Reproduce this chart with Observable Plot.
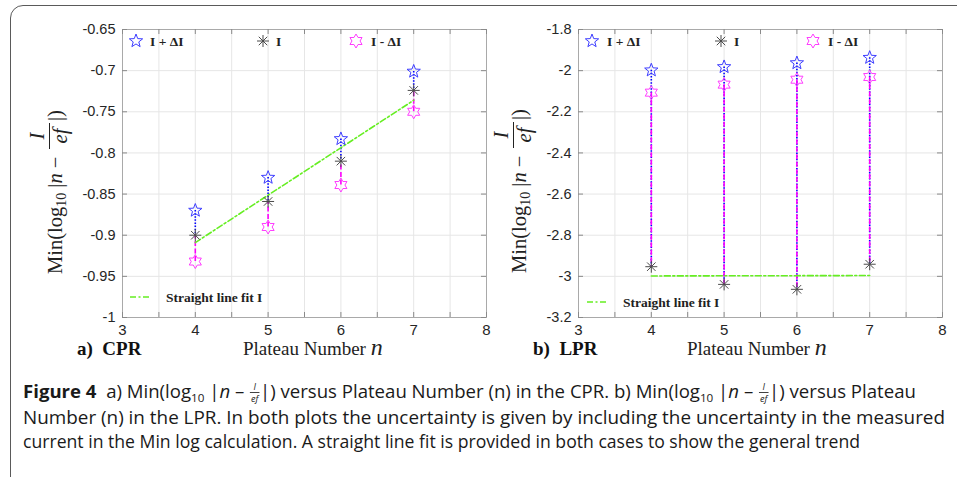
<!DOCTYPE html>
<html><head><meta charset="utf-8">
<script src="https://cdn.jsdelivr.net/npm/d3@7"></script>
<script src="https://cdn.jsdelivr.net/npm/@observablehq/plot@0.6"></script>
<style>
html,body{margin:0;padding:0;background:#fff;overflow:hidden;}
#fig{position:relative;width:957px;height:477px;overflow:hidden;background:#fff;}
#border{position:absolute;left:10px;top:5px;width:1000px;height:540px;border:1.5px solid #5a5a5a;border-radius:13px;box-sizing:border-box;}
.panel{position:absolute;top:0;}
</style></head><body><div id="fig"><div id="border"></div></div>
<script>
// ---------- data ----------
const plateau = [4, 5, 6, 7];
const cprPlus  = [-0.870, -0.830, -0.783, -0.701];
const cprI     = [-0.900, -0.859, -0.810, -0.724];
const cprMinus = [-0.932, -0.890, -0.839, -0.750];
const cprFitX = [4, 7];
const cprFitY = [-0.909, -0.736];

const lprPlus  = [-1.998, -1.982, -1.963, -1.937];
const lprI     = [-2.953, -3.039, -3.063, -2.941];
const lprMinus = [-2.107, -2.068, -2.044, -2.031];
const lprFitX = [4, 7];
const lprFitY = [-2.998, -2.996];

const xTicks = [3, 4, 5, 6, 7, 8];
const xGrid = [3, 3.5, 4, 4.5, 5, 5.5, 6, 6.5, 7, 7.5, 8];
const cprYTicks = [-0.65, -0.7, -0.75, -0.8, -0.85, -0.9, -0.95, -1];
const lprYTicks = [-1.8, -2, -2.2, -2.4, -2.6, -2.8, -3, -3.2];

const legendLabels = ["I + \u0394I", "I", "I - \u0394I"];
const fitLabel = "Straight line fit I";

// ---------- symbols ----------
const starSymbol = {draw(ctx, size) {
  const R = Math.sqrt(size / Math.PI), r = R * 0.42;
  for (let k = 0; k < 10; k++) {
    const a = -Math.PI / 2 + k * Math.PI / 5, rr = k % 2 ? r : R;
    const x = rr * Math.cos(a), y = rr * Math.sin(a);
    k ? ctx.lineTo(x, y) : ctx.moveTo(x, y);
  }
  ctx.closePath();
}};
const hexSymbol = {draw(ctx, size) {
  const R = Math.sqrt(size / Math.PI), r = R / Math.sqrt(3);
  for (let k = 0; k < 12; k++) {
    const a = -Math.PI / 2 + k * Math.PI / 6, rr = k % 2 ? r : R;
    const x = rr * Math.cos(a), y = rr * Math.sin(a);
    k ? ctx.lineTo(x, y) : ctx.moveTo(x, y);
  }
  ctx.closePath();
}};
const astSymbol = {draw(ctx, size) {
  const R = Math.sqrt(size / Math.PI);
  for (let k = 0; k < 4; k++) {
    const a = k * Math.PI / 4;
    ctx.moveTo(R * Math.cos(a), R * Math.sin(a));
    ctx.lineTo(-R * Math.cos(a), -R * Math.sin(a));
  }
}};

const C = {
  star: "#3d3dff", hex: "#ff3dff", ast: "#4a4a4a",
  blue: "#0000ff", mag: "#ff00ff", green: "#66ee22",
  grid: "#e6e6e6", frame: "#a9a9a9", tick: "#8a8a8a"
};
const serif = "'Liberation Serif','Times New Roman',serif";

function panel(cfg) {
  const idx = d3.range(plateau.length);
  const fidx = d3.range(cfg.fitX.length);
  const H = 360, mt = 29, mb = 43;
  const fh = H - mt - mb, fw = cfg.width - cfg.ml - cfg.mr, tk = 5;
  const svg = Plot.plot({
    width: cfg.width, height: H,
    marginLeft: cfg.ml, marginRight: cfg.mr, marginTop: mt, marginBottom: mb,
    x: {domain: [3, 8]},
    y: {domain: cfg.yDomain},
    style: {fontFamily: "'Liberation Sans', Arial, sans-serif", fontSize: "14.5px", color: "#262626", background: "transparent", overflow: "visible"},
    marks: [
      Plot.gridX(xGrid, {stroke: C.grid, strokeOpacity: 1}),
      Plot.gridY(cfg.yTicks, {stroke: C.grid, strokeOpacity: 1}),
      Plot.frame({stroke: C.frame}),
      Plot.tickX(xGrid, {insetTop: fh - tk, stroke: C.tick}),
      Plot.tickX(xGrid, {insetBottom: fh - tk, stroke: C.tick}),
      Plot.tickY(cfg.yTicks, {insetRight: fw - tk, stroke: C.tick}),
      Plot.tickY(cfg.yTicks, {insetLeft: fw - tk, stroke: C.tick}),
      Plot.axisX(xTicks, {anchor: "bottom", tickSize: 0, tickPadding: 7, label: null, fontSize: 15}),
      Plot.axisY(cfg.yTicks, {anchor: "left", tickSize: 0, tickPadding: 7, tickFormat: d => String(d), label: null}),
      Plot.ruleX(idx, {x: i => plateau[i], y1: i => cfg.plus[i], y2: i => cfg.I[i], stroke: C.blue, strokeWidth: 1.6, strokeDasharray: "1.5,1.6"}),
      Plot.ruleX(idx, {x: i => plateau[i], y1: i => cfg.minus[i], y2: i => cfg.I[i], stroke: C.mag, strokeWidth: 1.6, strokeDasharray: "5,2.5"}),
      Plot.line(fidx, {x: i => cfg.fitX[i], y: i => cfg.fitY[i], stroke: C.green, strokeWidth: 1.6, strokeDasharray: "6,2.5,2,2.5"}),
      Plot.dot(idx, {x: i => plateau[i], y: i => cfg.plus[i], symbol: starSymbol, r: 7, stroke: C.star, fill: "none", strokeWidth: 1}),
      Plot.dot(idx, {x: i => plateau[i], y: i => cfg.minus[i], symbol: hexSymbol, r: 7, stroke: C.hex, fill: "none", strokeWidth: 1}),
      Plot.dot(idx, {x: i => plateau[i], y: i => cfg.I[i], symbol: astSymbol, r: 6, stroke: C.ast, fill: "none", strokeWidth: 1})
    ]
  });
  svg.classList.add("panel");
  svg.style.left = cfg.left + "px";
  document.getElementById("fig").appendChild(svg);
  const s = d3.select(svg).append("g").attr("text-anchor", "start");

  // legend (top row)
  const L = cfg.leg;
  const syms = [[starSymbol, C.star, 7], [astSymbol, C.ast, 6], [hexSymbol, C.hex, 7]];
  syms.forEach(([sym, col, sz], k) => {
    s.append("path").attr("d", d3.symbol().type(sym).size(Math.PI * sz * sz)())
      .attr("transform", `translate(${L.mx[k]},${L.my})`).attr("fill", "none").attr("stroke", col);
    s.append("text").attr("x", L.tx[k]).attr("y", L.my + 5).attr("font-family", serif)
      .attr("font-weight", "bold").attr("font-size", 13.5).attr("fill", "#222").text(legendLabels[k]);
  });
  // legend (fit)
  s.append("line").attr("x1", L.fx).attr("x2", L.fx + 20).attr("y1", L.fy).attr("y2", L.fy)
    .attr("stroke", C.green).attr("stroke-width", 1.6).attr("stroke-dasharray", "6,2.5,2,2.5");
  s.append("text").attr("x", L.fx + 36).attr("y", L.fy + 4.5).attr("font-family", serif)
    .attr("font-weight", "bold").attr("font-size", 13.5).attr("fill", "#222").text(fitLabel);

  // x-axis title & panel tag
  s.append("text").attr("x", cfg.tagX).attr("y", 355).attr("font-family", serif).attr("font-weight", "bold")
    .attr("font-size", 19).attr("fill", "#111").attr("xml:space", "preserve").text(cfg.tag);
  const xt = s.append("text").attr("x", cfg.xlX).attr("y", 355).attr("font-family", serif).attr("font-size", 19).attr("fill", "#222");
  xt.append("tspan").text("Plateau Number ");
  xt.append("tspan").attr("font-style", "italic").attr("font-size", 24).text("n");

  // y-axis title (rotated)
  const yl = s.append("g").attr("transform", `translate(${cfg.ylX},${cfg.ylY}) rotate(-90)`)
    .attr("font-family", serif).attr("font-size", 20.5).attr("fill", "#222");
  const t = yl.append("text").attr("x", 0).attr("y", 0);
  t.append("tspan").text("Min(log");
  t.append("tspan").attr("font-size", 14).attr("dy", 4).text("10");
  t.append("tspan").attr("dy", -4).text(" |");
  t.append("tspan").attr("font-style", "italic").text("n");
  t.append("tspan").text(" \u2212");
  yl.append("text").attr("x", 138).attr("y", -18).attr("text-anchor", "middle").attr("font-style", "italic").text("I");
  yl.append("line").attr("x1", 125).attr("x2", 151).attr("y1", -12.5).attr("y2", -12.5).attr("stroke", "#222").attr("stroke-width", 1);
  yl.append("text").attr("x", 138).attr("y", 5).attr("text-anchor", "middle").attr("font-style", "italic").text("ef");
  yl.append("text").attr("x", 153).attr("y", 0).text("|)");
}

panel({
  left: 0, width: 500, ml: 122, mr: 14,
  yDomain: [-1, -0.65], yTicks: cprYTicks,
  plus: cprPlus, I: cprI, minus: cprMinus, fitX: cprFitX, fitY: cprFitY,
  leg: {mx: [136, 263, 356], tx: [150, 276, 371], my: 41, fx: 130, fy: 297},
  tag: "a)  CPR", tagX: 77, xlX: 243, ylX: 62, ylY: 274
});
panel({
  left: 478, width: 479, ml: 100, mr: 15,
  yDomain: [-3.2, -1.8], yTicks: lprYTicks,
  plus: lprPlus, I: lprI, minus: lprMinus, fitX: lprFitX, fitY: lprFitY,
  leg: {mx: [114, 243, 335], tx: [129, 256, 350], my: 41, fx: 109, fy: 302},
  tag: "b)  LPR", tagX: 55, xlX: 209, ylX: 48, ylY: 273
});

// ---------- caption ----------
const capFont = "'Open Sans','Noto Sans',sans-serif";
const capColor = "#1a1a1a";
const cap = d3.select("#fig").append("svg").attr("width", 957).attr("height", 477)
  .style("position", "absolute").style("left", "0px").style("top", "0px");

function addParts(t, parts) {
  parts.forEach(p => {
    const ts = t.append("tspan").text(p.t);
    if (p.bold) ts.attr("font-weight", "bold");
    if (p.it) ts.attr("font-style", "italic");
    if (p.sub) ts.attr("font-size", 11).attr("dy", 4);
    if (p.up) ts.attr("dy", -4);
  });
}
function capText(g, x, y) {
  return g.append("text").attr("x", x).attr("y", y).attr("font-family", capFont)
    .attr("font-size", 17.5).attr("fill", capColor).attr("xml:space", "preserve");
}
// first line: segments separated by inline fractions
function capLineSegments(y, segs, width) {
  const g = cap.append("g");
  let x = 0;
  const fracW = 10;
  segs.forEach(seg => {
    if (seg === "FRAC") {
      const cx = x + fracW / 2;
      g.append("text").attr("x", cx).attr("y", y - 8).attr("text-anchor", "middle").attr("font-family", capFont)
        .attr("font-style", "italic").attr("font-size", 8.5).attr("fill", capColor).text("I");
      g.append("line").attr("x1", cx - 4.5).attr("x2", cx + 4.5).attr("y1", y - 5.5).attr("y2", y - 5.5)
        .attr("stroke", capColor).attr("stroke-width", 0.8);
      g.append("text").attr("x", cx).attr("y", y + 4).attr("text-anchor", "middle").attr("font-family", capFont)
        .attr("font-style", "italic").attr("font-size", 8.5).attr("fill", capColor).text("ef");
      x += fracW;
      return;
    }
    const t = capText(g, x, y);
    addParts(t, seg);
    x += t.node().getComputedTextLength();
  });
  g.attr("transform", `translate(23,0) scale(${width / x},1)`);
}
function capLine(y, text, width) {
  capText(cap, 23, y).attr("textLength", width).attr("lengthAdjust", "spacingAndGlyphs").text(text);
}
capLineSegments(398, [
  [{t: "Figure 4", bold: true}, {t: "  a) Min(log"}, {t: "10", sub: true}, {t: " |", up: true}, {t: "n", it: true}, {t: " \u2013 "}],
  "FRAC",
  [{t: "|) versus Plateau Number (n) in the CPR. b) Min(log"}, {t: "10", sub: true}, {t: " |", up: true}, {t: "n", it: true}, {t: " \u2013 "}],
  "FRAC",
  [{t: "|) versus Plateau"}]
], 893);
capLine(423.5, "Number (n) in the LPR. In both plots the uncertainty is given by including the uncertainty in the measured", 922);
capLine(448, "current in the Min log calculation. A straight line fit is provided in both cases to show the general trend", 837);
</script></body></html>
